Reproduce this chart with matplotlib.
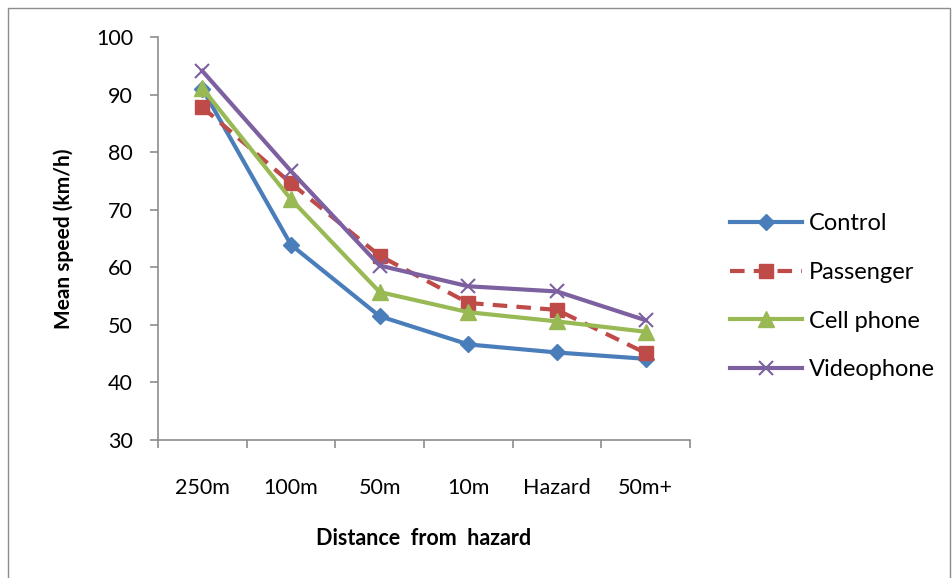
import matplotlib.pyplot as plt
from matplotlib.patches import Rectangle

categories = ['250m', '100m', '50m', '10m', 'Hazard', '50m+']
control = [91.0, 63.9, 51.5, 46.6, 45.2, 44.1]
passenger = [87.8, 74.6, 62.0, 53.8, 52.6, 45.1]
cell_phone = [91.1, 71.8, 55.7, 52.2, 50.6, 48.8]
videophone = [94.1, 76.7, 60.3, 56.7, 55.8, 50.8]

plt.rcParams['font.family'] = ['Lato', 'DejaVu Sans']

fig = plt.figure(figsize=(9.53, 5.78), dpi=100)
ax = fig.add_axes([158 / 953, 1 - 440 / 578, (690 - 158) / 953, (440 - 37) / 578])

# outer chart border
fig.patches.append(Rectangle((8 / 953, -0.02), (950 - 8) / 953, 1 - 8 / 578 + 0.02,
                             transform=fig.transFigure, fill=False,
                             edgecolor='#8c8c8c', linewidth=1.0))

x = list(range(len(categories)))
ax.plot(x, control, '-', color='#4A7EBB', lw=3, marker='D', ms=8, label='Control')
ax.plot(x, passenger, '--', color='#BE4B48', lw=3, marker='s', ms=10, label='Passenger',
        dashes=(3.5, 2.2))
ax.plot(x, cell_phone, '-', color='#98B954', lw=3, marker='^', ms=11, label='Cell phone')
ax.plot(x, videophone, '-', color='#7D60A0', lw=3, marker='x', ms=10, mew=1.5, label='Videophone')

ax.set_xlim(-0.5, len(categories) - 0.5)
ax.set_ylim(30, 100)
ax.set_yticks(range(30, 101, 10))
ax.set_xticks(x)
ax.set_xticklabels(categories)
ax.set_xticks([i - 0.5 for i in range(len(categories) + 1)], minor=True)

for s in ['top', 'right']:
    ax.spines[s].set_visible(False)
for s in ['left', 'bottom']:
    ax.spines[s].set_color('#8c8c8c')
    ax.spines[s].set_linewidth(1.2)

ax.tick_params(axis='x', which='major', length=0, pad=27, labelsize=15.5)
ax.tick_params(axis='x', which='minor', length=6, color='#8c8c8c', width=1.2)
ax.tick_params(axis='y', length=6, color='#8c8c8c', width=1.2, pad=12, labelsize=15.5)

ax.set_ylabel('Mean speed (km/h)', fontsize=15, fontweight='bold', labelpad=16)
ax.set_xlabel('Distance  from  hazard', fontsize=15.5, fontweight='bold', labelpad=22)

leg = ax.legend(loc='center left', bbox_to_anchor=(1.075, 0.355), frameon=False,
                fontsize=17, handlelength=3.05, labelspacing=1.17, handletextpad=0.3,
                borderaxespad=0, borderpad=0)

plt.savefig('out.png', dpi=100)
